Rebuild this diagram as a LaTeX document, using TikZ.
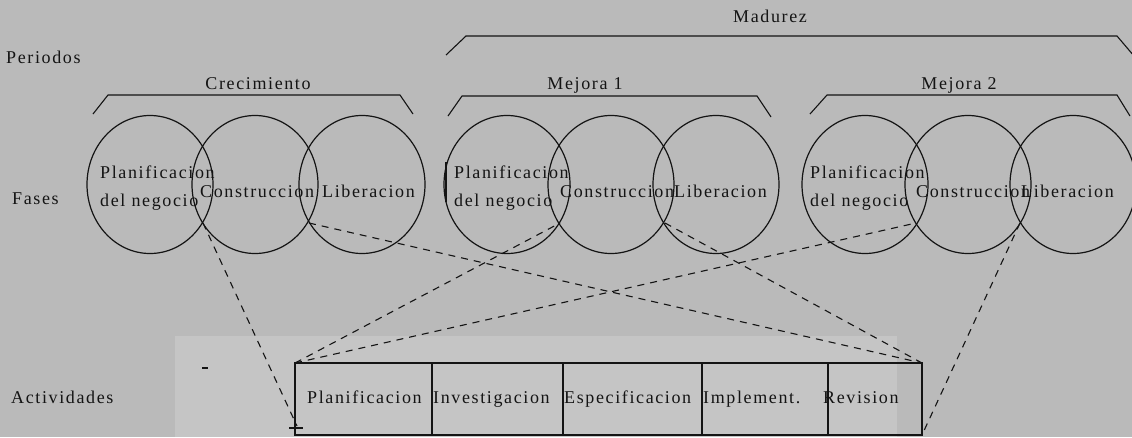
\documentclass[tikz,border=0pt]{standalone}
\usepackage{fontspec}
\setmainfont{Liberation Serif}[LetterSpace=9]
\usetikzlibrary{shapes.geometric}

\definecolor{paper}{HTML}{BABABA}
\definecolor{paperlight}{HTML}{C5C5C5}
\definecolor{ink}{HTML}{141414}

\begin{document}
\begin{tikzpicture}[x=1pt,y=-1pt,
  phase/.style={draw=ink, line width=1.2pt, ellipse, minimum width=126pt,
                minimum height=138pt, inner sep=0pt, outer sep=0pt},
  lbl/.style={anchor=base west, inner sep=0pt, text=ink,
              font=\fontsize{18}{20}\selectfont},
  ttl/.style={lbl, anchor=base},
  brace/.style={draw=ink, line width=1.1pt},
  link/.style={draw=ink, line width=1.1pt, dash pattern=on 7pt off 6pt},
  cellline/.style={draw=ink, line width=1.1pt}]

% page
\fill[paper] (0,0) rectangle (1132,437);
\useasboundingbox (0,0) rectangle (1132,437);
\fill[paperlight] (175,336) rectangle (897,437);

% row titles
\node[lbl] (tper) at (6,63) {Periodos};
\node[lbl] (tfas) at (12,204) {Fases};
\node[lbl] (tact) at (11,403) {Actividades};

% period braces
\draw[brace] (446,55) -- (466,36) -- (1117,36) -- (1134,56);
\node[ttl] (madurez) at (770,22) {Madurez};

\draw[brace] (93,114) -- (108,95) -- (400,95) -- (413,114);
\node[ttl] (crec) at (258,89) {Crecimiento};

\draw[brace] (448,116) -- (462,96) -- (757,96) -- (771,117);
\node[ttl] (mej1) at (585,89) {Mejora 1};

\draw[brace] (810,114) -- (827,95) -- (1117,95) -- (1130,116);
\node[ttl] (mej2) at (959,89) {Mejora 2};

% phases
\node[phase] (c1) at (150,184.5) {};
\node[phase] (c2) at (255,184.5) {};
\node[phase] (c3) at (362,184.5) {};
\node[phase] (c4) at (507,184.5) {};
\node[phase] (c5) at (611,184.5) {};
\node[phase] (c6) at (716,184.5) {};
\node[phase] (c7) at (865,184.5) {};
\node[phase] (c8) at (968,184.5) {};
\node[phase] (c9) at (1073,184.5) {};

\node[lbl] (p1a) at (100,178) {Planificacion};
\node[lbl] (p1b) at (100,206) {del negocio};
\node[lbl] (k1)  at (200,197) {Construccion};
\node[lbl] (l1)  at (322,197) {Liberacion};

\draw[ink, line width=1.2pt] (446,162) -- (446,202);
\node[lbl] (p2a) at (454,178) {Planificacion};
\node[lbl] (p2b) at (454,206) {del negocio};
\node[lbl] (k2)  at (560,197) {Construccion};
\node[lbl] (l2)  at (674,197) {Liberacion};

\node[lbl] (p3a) at (810,178) {Planificacion};
\node[lbl] (p3b) at (810,206) {del negocio};
\node[lbl] (k3)  at (916,197) {Construccion};
\node[lbl] (l3)  at (1021,197) {Liberacion};

% lower crossings of neighbouring phases
\coordinate (x12) at (203,223);
\coordinate (x23) at (309,223);
\coordinate (x45) at (560,223);
\coordinate (x56) at (665,223);
\coordinate (x78) at (916,223);
\coordinate (x89) at (1020,223);

% activities strip
\node[draw=ink, line width=1.1pt, anchor=north west, minimum width=627pt,
      minimum height=72pt, inner sep=0pt, outer sep=0pt] (act) at (295,363) {};
\draw[cellline] (432,363) -- (432,435);
\draw[cellline] (563,363) -- (563,435);
\draw[cellline] (702,363) -- (702,435);
\draw[cellline] (828,363) -- (828,435);
\draw[cellline] (289,428) -- (303,428);

\node[lbl] (a1) at (307,403) {Planificacion};
\node[lbl] (a2) at (433,403) {Investigacion};
\node[lbl] (a3) at (564,403) {Especificacion};
\node[lbl] (a4) at (703,403) {Implement.};
\node[lbl] (a5) at (823,403) {Revision};

\coordinate (actfoot) at (297,426);
\draw[ink, line width=1.1pt] (202,368) -- (208,368);

% phase-to-activity links
\draw[link] (x12) -- (actfoot);
\draw[link] (x23) -- (act.north east);
\draw[link] (act.north west) -- (x45);
\draw[link] (act.north west) -- (x78);
\draw[link] (x56) -- (act.north east);
\draw[link] (x89) -- (act.south east);
\end{tikzpicture}
\end{document}
